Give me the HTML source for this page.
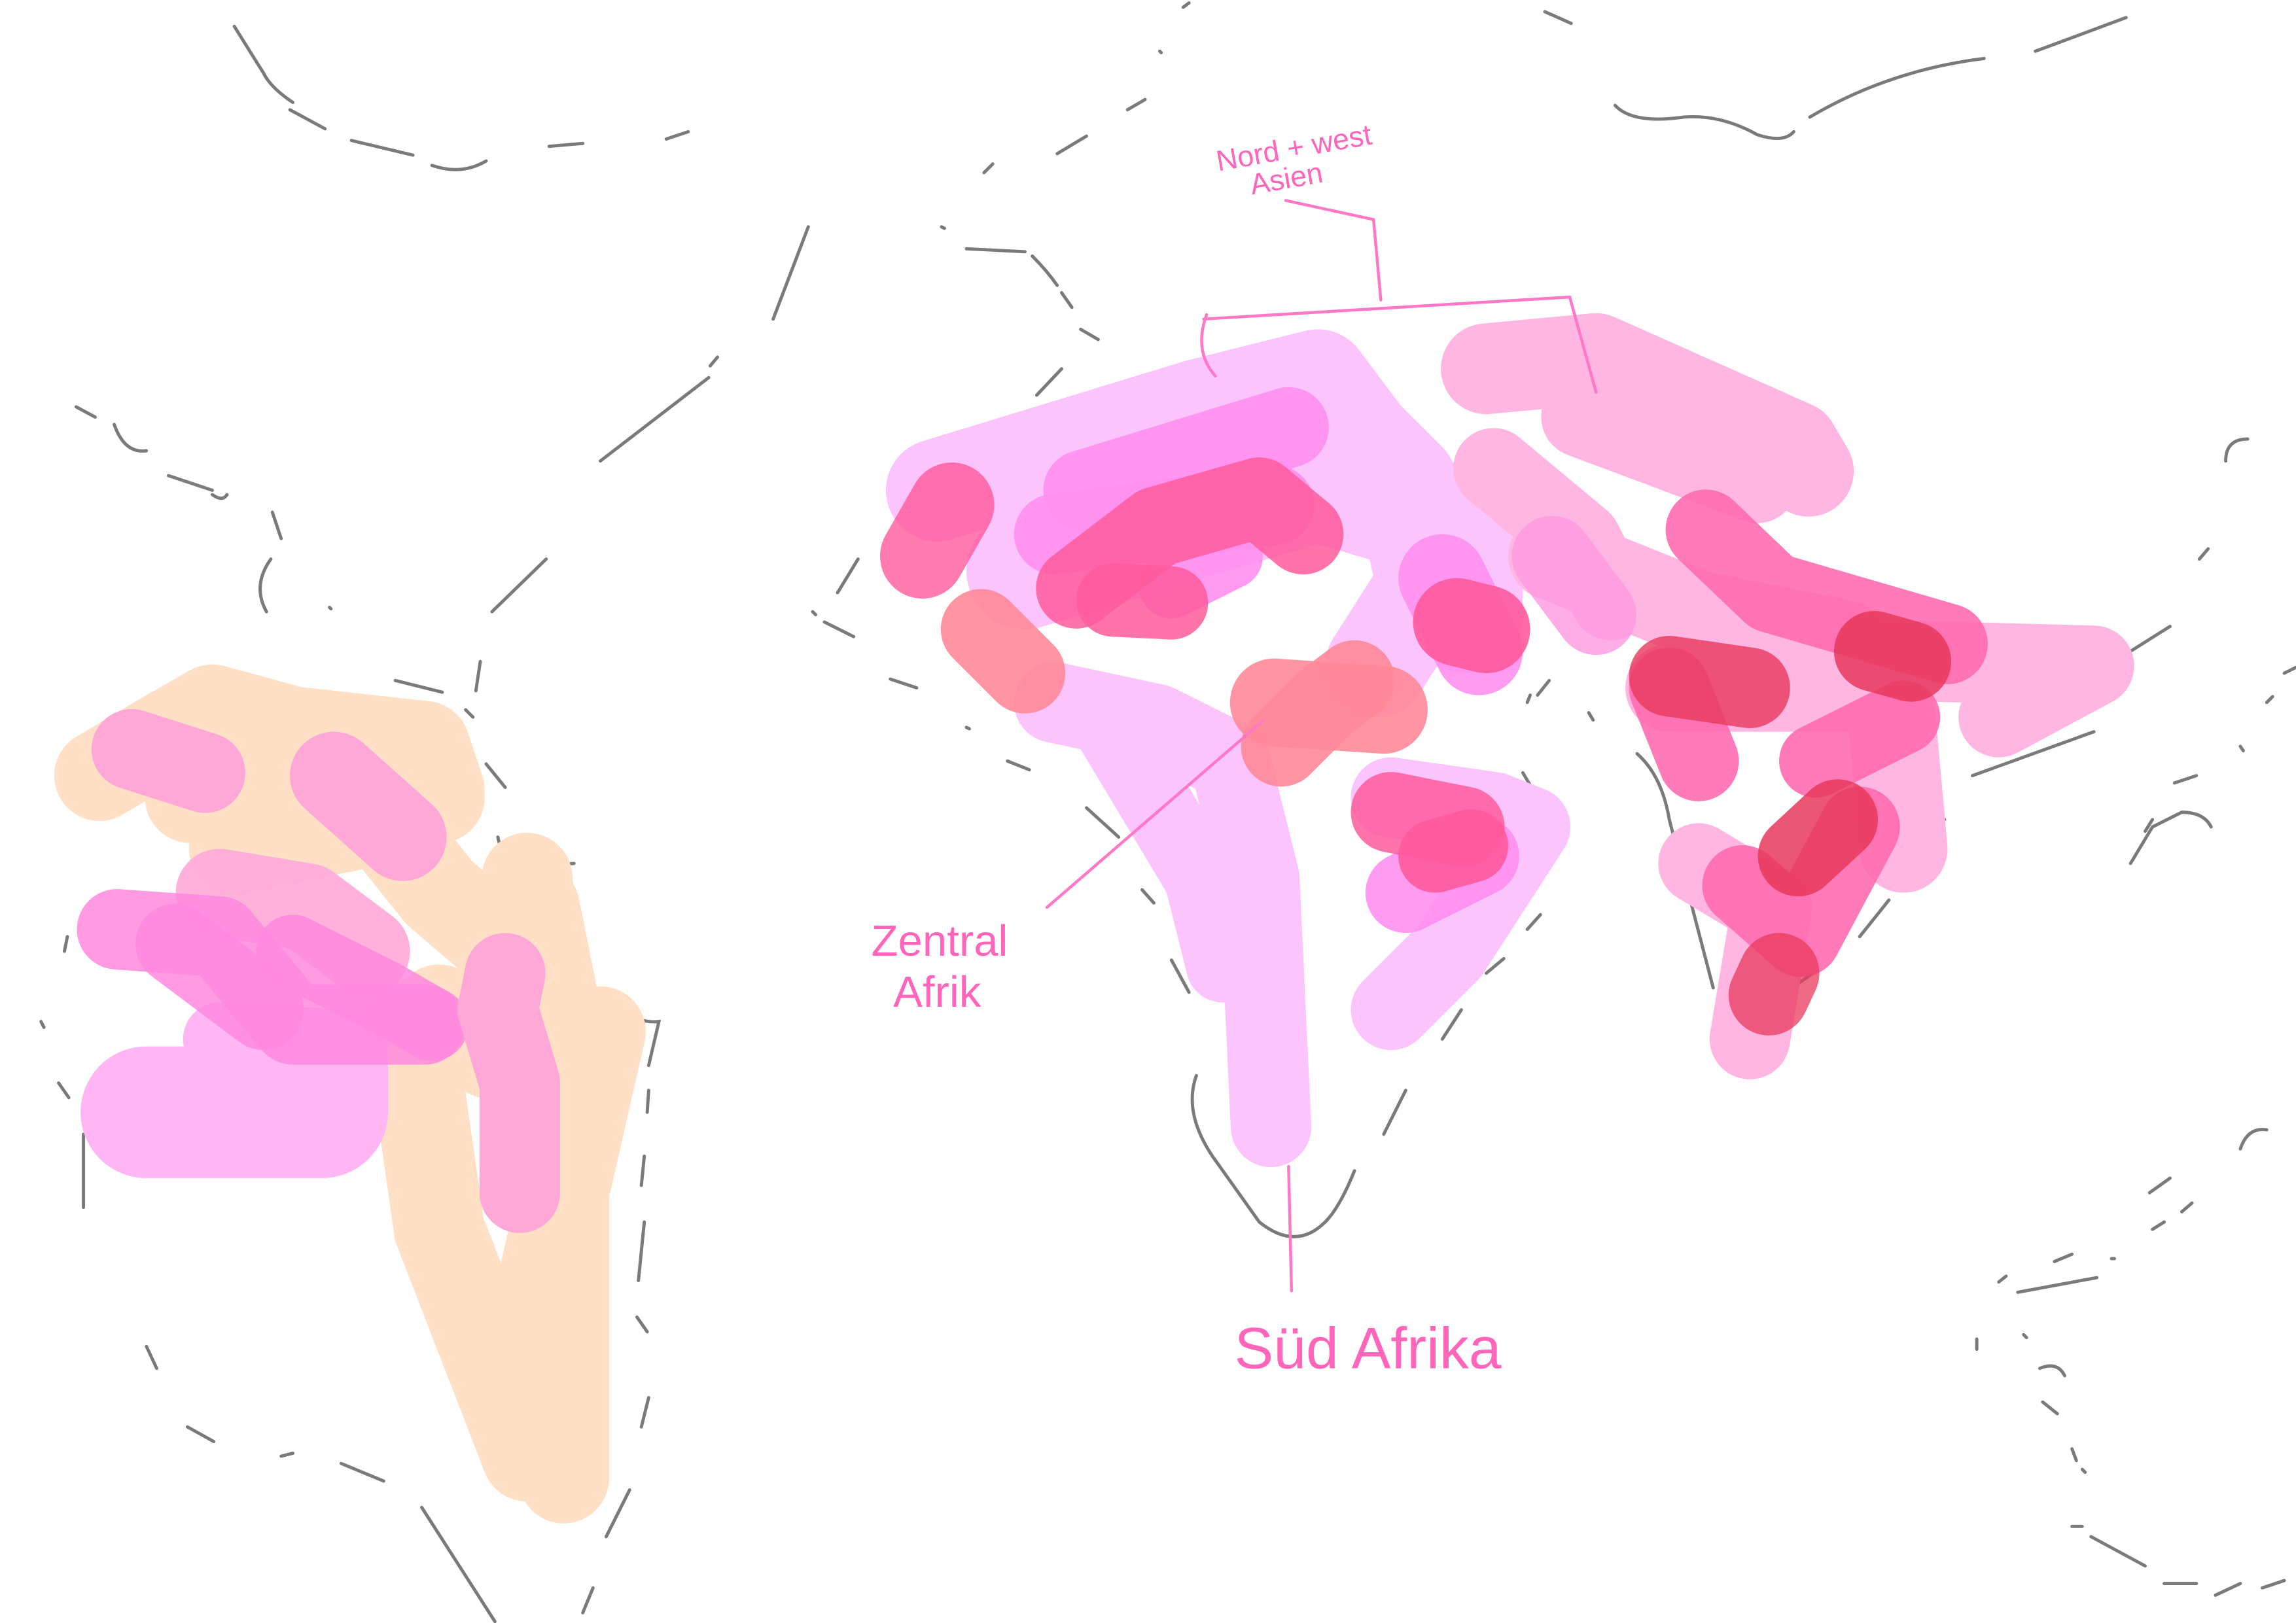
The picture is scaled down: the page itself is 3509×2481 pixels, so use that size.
<!DOCTYPE html>
<html><head><meta charset="utf-8"><style>
html,body{margin:0;padding:0;background:#fff;}
svg{display:block;}
</style></head><body>
<svg width="3509" height="2481" viewBox="0 0 1568 1109" preserveAspectRatio="none" xmlns="http://www.w3.org/2000/svg">
<rect width="1568" height="1109" fill="#fff"/>
<g fill="none" stroke="#7a7a7a" stroke-width="2.2" stroke-linecap="round">
<path d="M160,18 L180,50 Q185,60 200,70"/><path d="M198,75 L222,88"/><path d="M240,96 L282,106"/><path d="M295,113 Q315,120 332,110"/><path d="M375,100 L398,98"/><path d="M455,95 L470,90"/>
<path d="M1055,8 L1073,16"/><path d="M1103,72 Q1115,85 1150,80 Q1175,78 1200,92 Q1218,98 1225,90"/><path d="M1236,80 Q1290,48 1355,40"/><path d="M1390,35 L1452,12"/>
<path d="M552,155 L528,218"/><path d="M485,250 L490,244"/><path d="M484,258 L410,315"/><path d="M373,382 L336,418"/>
<path d="M660,170 L700,172"/><path d="M705,175 Q715,185 722,195"/><path d="M725,200 L732,210"/><path d="M738,225 L750,232"/><path d="M725,252 L708,270"/>
<path d="M770,75 L782,68"/><path d="M722,105 L742,93"/><path d="M672,118 L678,112"/><path d="M808,5 L812,2"/>
<path d="M52,278 L65,285"/><path d="M78,290 Q85,310 100,308"/><path d="M115,325 L145,335"/><path d="M145,338 Q152,343 155,338"/><path d="M186,350 L192,368"/><path d="M185,382 Q172,400 182,418"/>
<path d="M270,465 L302,473"/><path d="M193,495 L215,500"/><path d="M300,505 L315,510"/><path d="M328,452 L325,472"/><path d="M318,485 L323,490"/><path d="M332,522 L345,538"/><path d="M340,572 Q345,596 365,592 L392,590"/>
<path d="M422,680 Q430,700 450,698 L443,728"/><path d="M443,745 L442,760"/><path d="M440,790 L438,810"/><path d="M440,835 L436,875"/><path d="M435,900 L442,910"/><path d="M443,955 L438,975"/><path d="M430,1018 L414,1050"/><path d="M405,1085 L398,1102"/>
<path d="M44,650 L46,640"/><path d="M28,698 L30,702"/><path d="M40,740 L47,750"/><path d="M57,775 L57,825"/><path d="M100,920 L107,935"/><path d="M128,975 L146,985"/><path d="M192,995 L200,993"/><path d="M233,1000 L262,1012"/><path d="M288,1030 L338,1108"/>
<path d="M586,382 L572,405"/><path d="M563,425 L583,435"/><path d="M608,464 L626,470"/><path d="M660,497 L662,498"/><path d="M688,520 L703,526"/><path d="M742,552 L764,572"/><path d="M780,608 L788,617"/><path d="M800,656 L812,678"/><path d="M817,735 Q808,760 828,790 L860,835 Q885,855 905,835 Q915,825 925,800"/><path d="M945,775 L960,745"/><path d="M985,710 L998,690"/><path d="M1015,665 L1027,655"/><path d="M1043,635 L1052,625"/><path d="M1056,588 L1058,593"/><path d="M1040,528 L1050,545"/><path d="M1043,480 L1045,475"/><path d="M1050,475 L1058,465"/><path d="M1085,487 L1088,492"/>
<path d="M1118,515 Q1135,530 1140,560 L1170,675"/><path d="M1192,700 L1200,706"/><path d="M1228,672 L1238,665"/><path d="M1270,640 L1290,615"/><path d="M1318,568 L1328,560"/><path d="M1347,530 L1430,500"/><path d="M1455,445 L1482,428"/><path d="M1455,590 L1470,565 L1490,555 Q1505,555 1510,565"/><path d="M1470,560 L1465,568"/><path d="M1485,535 L1500,530"/><path d="M1530,510 L1532,513"/><path d="M1548,480 L1552,476"/><path d="M1560,460 L1568,456"/><path d="M1502,382 L1508,375"/><path d="M1520,315 Q1520,300 1535,300"/>
<path d="M1530,785 Q1535,770 1548,772"/><path d="M1490,828 L1497,822"/><path d="M1470,840 L1478,835"/><path d="M1468,815 L1482,805"/><path d="M1378,883 L1432,873"/><path d="M1403,862 L1415,857"/><path d="M1442,860 L1444,860"/><path d="M1365,876 L1370,872"/><path d="M1350,915 L1350,922"/><path d="M1382,912 L1384,914"/><path d="M1393,935 Q1405,930 1410,940"/><path d="M1395,958 L1405,966"/><path d="M1415,990 L1418,998"/><path d="M1422,1004 L1424,1006"/><path d="M1415,1043 L1422,1043"/><path d="M1428,1050 L1465,1070"/><path d="M1478,1082 L1500,1082"/><path d="M1513,1090 L1530,1082"/><path d="M1545,1085 L1560,1080"/><path d="M555,418 L557,420"/><path d="M643,155 L645,156"/><path d="M225,415 L226,416"/><path d="M792,35 L793,36"/>
</g>
<g fill="none" stroke="#ffdfc6" stroke-linecap="round" stroke-linejoin="round" stroke-width="62">
<path d="M68,530 L110,505 L145,485 L200,500 L290,510 L300,540"/><path d="M130,545 L300,545"/><path d="M160,580 L260,560 L300,610 L335,640"/><path d="M360,600 L370,700"/><path d="M365,620 L385,720 L385,1010"/><path d="M410,705 L370,880"/><path d="M280,700 L300,840 L360,995"/><path d="M300,690 L335,720"/>
</g>
<g fill="none" stroke-linecap="round" stroke-linejoin="round">
<path d="M90,512 L140,528" stroke="#ffa8d8" stroke-width="55"/><path d="M228,530 L275,572" stroke="#ffa8d8" stroke-width="60"/>
<path d="M150,610 L210,620 L250,650" stroke="#ffa8d8" stroke-width="60" opacity=".9"/>
<path d="M100,760 L220,760" stroke="#ffb6f4" stroke-width="90"/><path d="M150,710 L240,715 L240,760" stroke="#ffb6f4" stroke-width="50"/>
<path d="M80,635 L150,640 L200,700 L290,700" stroke="#ff88de" stroke-width="55" opacity=".85"/><path d="M120,645 L180,690" stroke="#ff88de" stroke-width="55" opacity=".85"/><path d="M200,650 L260,680 L295,700" stroke="#ff88de" stroke-width="50" opacity=".85"/>
<path d="M345,665 L340,690 L355,740 L355,815" stroke="#ffa8d8" stroke-width="55"/>
</g>
<g fill="none" stroke-linecap="round" stroke-linejoin="round">
<path d="M640,335 L820,280 L900,260 L930,300 L960,330 L975,400 L940,455" stroke="#fcc4fc" stroke-width="70"/>
<path d="M700,390 L900,330 L1000,360 L1000,420" stroke="#fcc4fc" stroke-width="80"/>
<path d="M720,480 L790,495 L840,520 L860,600 L868,770" stroke="#fcc4fc" stroke-width="55"/>
<path d="M760,500 L820,600 L835,660" stroke="#fcc4fc" stroke-width="50"/>
<path d="M950,545 L1020,555 L1045,565 L990,650 L950,690" stroke="#fcc4fc" stroke-width="55"/>
<path d="M740,335 L880,292" stroke="#ff90f0" stroke-width="55" opacity=".9"/><path d="M720,365 L870,345" stroke="#ff90f0" stroke-width="55" opacity=".9"/>
<path d="M800,400 L840,380" stroke="#ff90f0" stroke-width="45" opacity=".9"/>
<path d="M985,395 L1010,445" stroke="#ff90f0" stroke-width="60" opacity=".9"/><path d="M960,610 L1010,585" stroke="#ff90f0" stroke-width="55" opacity=".9"/>
<path d="M630,380 L650,345" stroke="#ff5a9c" stroke-width="58" opacity=".8"/>
<path d="M735,402 L790,360 L860,340 L890,365" stroke="#ff5a9c" stroke-width="55" opacity=".85"/><path d="M760,410 L800,412" stroke="#ff5a9c" stroke-width="50" opacity=".85"/>
<path d="M995,425 L1015,430" stroke="#ff5a9c" stroke-width="60" opacity=".9"/>
<path d="M950,555 L1000,565" stroke="#ff5a9c" stroke-width="55" opacity=".85"/><path d="M980,585 L1005,578" stroke="#ff5a9c" stroke-width="50" opacity=".9"/>
<path d="M670,430 L700,460" stroke="#ff8898" stroke-width="55" opacity=".9"/>
<path d="M870,480 L945,485" stroke="#ff8898" stroke-width="60" opacity=".9"/><path d="M875,510 L905,480 L925,465" stroke="#ff8898" stroke-width="55" opacity=".9"/>
</g>
<g fill="none" stroke-linecap="round" stroke-linejoin="round">
<path d="M1015,252 L1090,245 L1225,305 L1235,322" stroke="#ffb6e2" stroke-width="62"/><path d="M1080,285 L1200,330" stroke="#ffb6e2" stroke-width="55"/>
<path d="M1020,320 L1080,370 L1100,410" stroke="#ffb6e2" stroke-width="55"/><path d="M1060,380 L1160,420 L1260,440" stroke="#ffb6e2" stroke-width="60"/>
<path d="M1250,450 L1430,455 L1365,490" stroke="#ffb6e2" stroke-width="55"/>
<path d="M1140,470 L1290,470 L1300,580" stroke="#ffb6e2" stroke-width="60"/><path d="M1160,590 L1210,620 L1195,710" stroke="#ffb6e2" stroke-width="55"/>
<path d="M1060,380 L1090,420" stroke="#ff98e0" stroke-width="55" opacity=".8"/>
<path d="M1165,362 L1210,405 L1330,440" stroke="#ff6cb0" stroke-width="55" opacity=".9"/>
<path d="M1140,470 L1160,520" stroke="#ff6cb0" stroke-width="55" opacity=".9"/><path d="M1240,520 L1300,490" stroke="#ff6cb0" stroke-width="50" opacity=".9"/>
<path d="M1190,605 L1230,640 L1270,565" stroke="#ff6cb0" stroke-width="55" opacity=".9"/>
<path d="M1140,462 L1195,470" stroke="#e8385c" stroke-width="55" opacity=".8"/><path d="M1280,445 L1305,452" stroke="#e8385c" stroke-width="55" opacity=".85"/>
<path d="M1228,585 L1255,560" stroke="#e8385c" stroke-width="55" opacity=".85"/><path d="M1208,680 L1215,665" stroke="#e8385c" stroke-width="55" opacity=".75"/>
</g>
<g fill="none" stroke="#ff78c8" stroke-width="2" stroke-linecap="round">
<path d="M822,218 L1072,203 L1090,268"/><path d="M878,137 L938,150 L943,205"/><path d="M824,215 Q815,240 830,257"/>
<path d="M862,493 L715,620"/><path d="M880,797 L882,882"/>
</g>
<g font-family="Liberation Sans, sans-serif" fill="#ff66bb">
<text x="832" y="117" font-size="20" transform="rotate(-10 832 117)">Nord + west</text>
<text x="855" y="133" font-size="20" transform="rotate(-10 855 133)">Asien</text>
<text x="595" y="653" font-size="30">Zentral</text>
<text x="610" y="688" font-size="30">Afrik</text>
<text x="843" y="935" font-size="40">Süd Afrika</text>
</g>
</svg>
</body></html>
